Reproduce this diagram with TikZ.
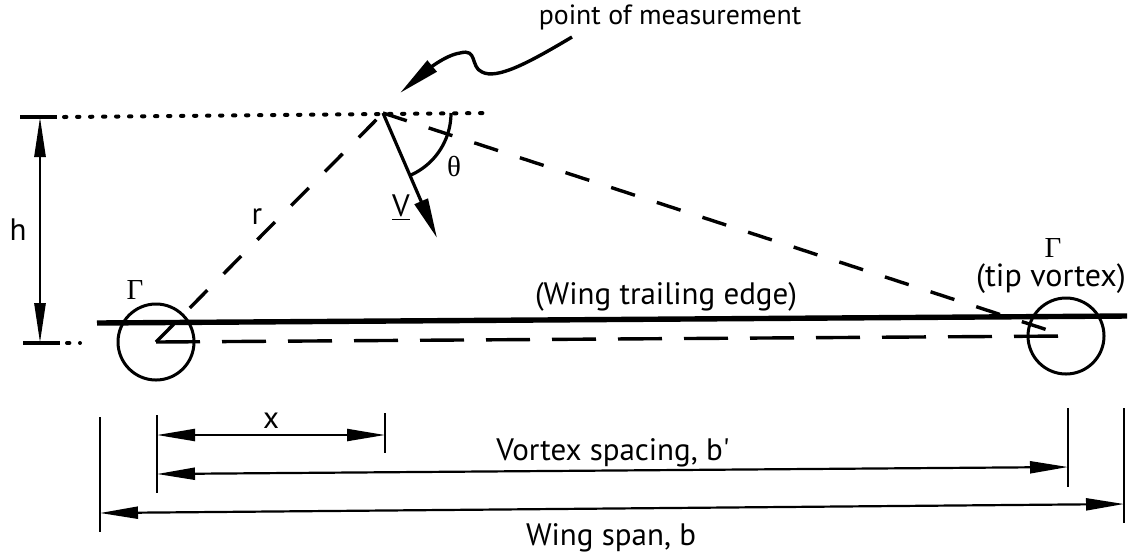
\documentclass[tikz,border=0pt]{standalone}
\usepackage{fontspec}
\setmainfont{PT Sans}
\newfontfamily\greekfont{Liberation Serif}
\usetikzlibrary{arrows.meta}
\tikzset{
  lbl/.style={inner sep=0pt, font=\fontsize{15.5}{17}\selectfont},
  glbl/.style={inner sep=0pt, font=\greekfont\fontsize{14.5}{16}\selectfont},
  vortex/.style={draw, circle, minimum size=38pt, inner sep=0pt, line width=1.5pt},
  dashline/.style={line width=1.7pt, dash pattern=on 12.5pt off 11.5pt},
  longdash/.style={line width=1.7pt, dash pattern=on 22pt off 11pt},
  dotline/.style={line width=2pt, line cap=round, dash pattern=on 1.2pt off 5.3pt},
  tickline/.style={line width=1.4pt},
  dimline/.style={line width=1.1pt, {Triangle[length=19pt,width=6pt]}-{Triangle[length=19pt,width=6pt]}},
  edge/.style={line width=2.7pt},
}
\begin{document}
\begin{tikzpicture}[x=0.5pt,y=-0.5pt]
\useasboundingbox (0,0) rectangle (1128,559);
% key points
\coordinate (P) at (383,113);
\node[vortex] (Lv) at (156,342) {};
\node[vortex] (Rv) at (1066,336) {};
\coordinate (L) at (156,342);
\coordinate (R) at (1066,336);
% trailing edge
\coordinate (TE1) at (97,323);
\coordinate (TE2) at (1127,316);
\draw[edge] (TE1) -- (TE2);
% dashed lines
\draw[dashline] (L) -- (P);
\draw[dashline] (P) -- (R);
\draw[longdash] (L) -- (R);
% dotted height reference
\coordinate (D1) at (64,117);
\coordinate (D2) at (490,113);
\draw[dotline] (D1) -- (D2);
\coordinate (T1a) at (20,117);
\coordinate (T1b) at (57,117);
\draw[tickline, line width=1.8pt] (T1a) -- (T1b);
\coordinate (T2a) at (23,343);
\coordinate (T2b) at (60,343);
\draw[tickline, line width=1.8pt] (T2a) -- (T2b);
\coordinate (D3) at (67,343);
\coordinate (D4) at (80,343);
\draw[dotline] (D3) -- (D4);
% h dimension
\coordinate (H1) at (40,117);
\coordinate (H2) at (40,343);
\draw[line width=1.4pt, {Triangle[length=20pt,width=5.5pt]}-{Triangle[length=20pt,width=5.5pt]}] (H1) -- (H2);
\node[lbl] (hl) at (18,230) {h};
% velocity arrow
\coordinate (Vt) at (437,238);
\draw[line width=1.6pt, -{Triangle[length=20pt,width=7pt]}] (P) -- (Vt);
\node[lbl] (Vl) at (401,208) {\underline{V}};
% angle arc
\draw[line width=1.6pt] plot[domain=0:66.6, samples=30, smooth] ({383+68*cos(\x)},{113+68*sin(\x)});
\node[glbl] (th) at (454,166) {θ};
% labels
\node[lbl] (rl) at (257,217) {r};
\node[glbl] (G1) at (135,290) {Γ};
\node[glbl] (G2) at (1053,248) {Γ};
\node[lbl, font=\fontsize{16}{18}\selectfont] (tip) at (1051,279) {(tip vortex)};
\node[lbl] (wte) at (666,297) {(Wing trailing edge)};
\node[lbl, font=\fontsize{13.9}{16}\selectfont] (pm) at (670,17) {point of measurement};
% curvy arrow
\coordinate (C0) at (572,37);
\coordinate (C1) at (482,72);
\coordinate (C2) at (460,53);
\coordinate (C3) at (400,93);
\draw[line width=1.7pt, -{Triangle[length=21pt,width=7pt]}] (C0) .. controls (530,62) and (497,80) .. (C1) .. controls (470,67) and (478,48) .. (C2) .. controls (445,55) and (425,72) .. (C3);
% bottom dimension ticks
\coordinate (B1a) at (100,417); \coordinate (B1b) at (100,532);
\coordinate (B2a) at (157,415); \coordinate (B2b) at (157,493);
\coordinate (B3a) at (385,413); \coordinate (B3b) at (385,453);
\coordinate (B4a) at (1068,408); \coordinate (B4b) at (1068,487);
\coordinate (B5a) at (1124,408); \coordinate (B5b) at (1124,523);
\draw[tickline] (B1a) -- (B1b);
\draw[tickline] (B2a) -- (B2b);
\draw[tickline] (B3a) -- (B3b);
\draw[tickline] (B4a) -- (B4b);
\draw[tickline] (B5a) -- (B5b);
% dimension arrows
\coordinate (X1) at (157,435); \coordinate (X2) at (385,435);
\draw[dimline] (X1) -- (X2);
\node[lbl] (xl) at (271,421) {x};
\coordinate (S1) at (157,474); \coordinate (S2) at (1068,467);
\draw[dimline] (S1) -- (S2);
\node[lbl] (sl) at (613,453) {Vortex spacing, b\textquotesingle};
\coordinate (W1) at (100,513); \coordinate (W2) at (1124,504);
\draw[dimline] (W1) -- (W2);
\node[lbl] (wl) at (611,538) {Wing span, b};
\end{tikzpicture}
\end{document}
